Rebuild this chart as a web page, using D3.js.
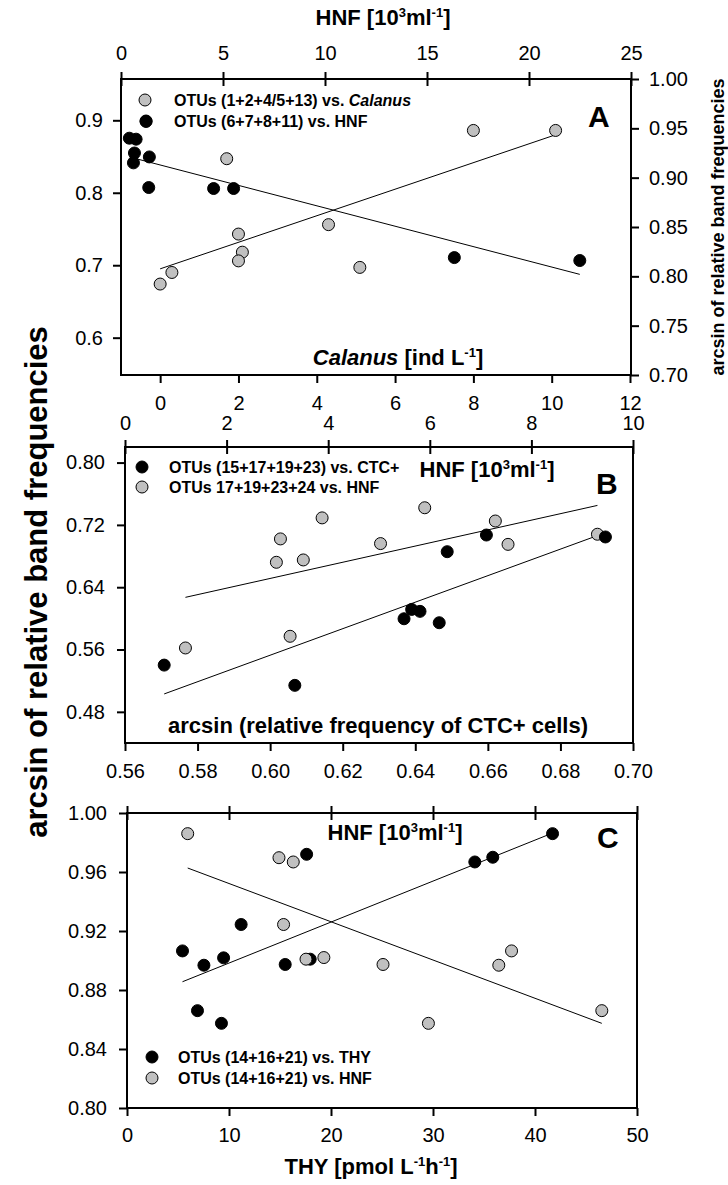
<!DOCTYPE html>
<html><head><meta charset="utf-8">
<script src="https://cdn.jsdelivr.net/npm/d3@7"></script>
<style>
body{margin:0;background:#fff;}
svg{display:block;font-family:"Liberation Sans",Arial,Helvetica,sans-serif;}
</style></head><body>
<svg id="chart" width="728" height="1185"></svg>
<script>
// ---------------- Panel A data ----------------
const calanusX = [0.0, 0.3, 1.7, 2.0, 2.1, 2.0, 4.3, 5.1, 8.0, 10.1];
const calanusY = [0.674, 0.690, 0.847, 0.743, 0.718, 0.706, 0.756, 0.697, 0.886, 0.886];
const hnfAX = [0.41, 0.74, 0.66, 0.61, 1.23, 1.39, 1.36, 4.54, 5.52, 16.34, 22.49];
const hnfAY = [0.940, 0.939, 0.925, 0.915, 0.957, 0.921, 0.890, 0.889, 0.889, 0.819, 0.816];
const fitACalX = [0.0, 10.1], fitACalY = [0.695, 0.880];
const fitAHnfX = [0.41, 22.49], fitAHnfY = [0.921, 0.802];
const aTopTicks = [0, 5, 10, 15, 20, 25];
const aBottomTicks = [0, 2, 4, 6, 8, 10, 12];
const aLeftTicks = [0.6, 0.7, 0.8, 0.9];
const aRightTicks = [0.70, 0.75, 0.80, 0.85, 0.90, 0.95, 1.00];

// ---------------- Panel B data ----------------
const ctcX = [0.5708, 0.6068, 0.6369, 0.6390, 0.6413, 0.6466, 0.6488, 0.6596, 0.6924];
const ctcY = [0.540, 0.514, 0.5995, 0.6115, 0.609, 0.5944, 0.6856, 0.707, 0.7045];
const hnfBX = [1.19, 3.25, 2.98, 3.06, 3.51, 3.88, 5.03, 5.90, 7.29, 7.54, 9.30];
const hnfBY = [0.562, 0.577, 0.672, 0.702, 0.675, 0.729, 0.696, 0.742, 0.725, 0.695, 0.708];
const fitBCtcX = [0.5708, 0.6924], fitBCtcY = [0.503, 0.710];
const fitBHnfX = [1.19, 9.30], fitBHnfY = [0.627, 0.745];
const bTopTicks = [0, 2, 4, 6, 8, 10];
const bBottomTicks = [0.56, 0.58, 0.60, 0.62, 0.64, 0.66, 0.68, 0.70];
const bLeftTicks = [0.48, 0.56, 0.64, 0.72, 0.80];

// ---------------- Panel C data ----------------
const thyX = [5.44, 7.54, 9.47, 11.19, 15.51, 17.61, 17.96, 6.91, 9.26, 34.1, 35.86, 41.72];
const thyY = [0.9065, 0.8968, 0.9018, 0.9244, 0.8973, 0.972, 0.9009, 0.866, 0.8574, 0.9668, 0.970, 0.986];
const hnfCX = [1.19, 2.98, 3.26, 3.07, 3.51, 3.86, 5.02, 5.91, 7.29, 7.54, 9.31];
const hnfCY = [0.986, 0.9697, 0.9668, 0.9244, 0.9009, 0.902, 0.8973, 0.8574, 0.8968, 0.9065, 0.866];
const fitCThyX = [5.44, 41.72], fitCThyY = [0.8856, 0.9864];
const fitCHnfX = [1.19, 9.31], fitCHnfY = [0.9627, 0.8574];
const cBottomTicks = [0, 10, 20, 30, 40, 50];
const cTopTicks = [0, 2, 4, 6, 8, 10];
const cLeftTicks = [0.80, 0.84, 0.88, 0.92, 0.96, 1.00];

// ---------------- drawing ----------------
const svg = d3.select("#chart");
const GRAY = "#c0c0c0";
const TICKFS = 20;

function zip(xs, ys) { return xs.map((x, i) => [x, ys[i]]); }

function styleAxis(g, fs) {
  g.select(".domain").remove();
  g.selectAll(".tick line").attr("stroke", "#000").attr("stroke-width", 2);
  g.selectAll(".tick text").attr("fill", "#000").attr("font-size", fs || TICKFS)
    .attr("font-family", '"Liberation Sans",Arial,sans-serif');
}

function frame(b) {
  svg.append("rect").attr("x", b.l).attr("y", b.t).attr("width", b.r - b.l).attr("height", b.b - b.t)
    .attr("fill", "none").attr("stroke", "#000").attr("stroke-width", 2);
}

function points(data, xs, ys, fill) {
  svg.append("g").selectAll("circle").data(data).join("circle")
    .attr("cx", d => xs(d[0])).attr("cy", d => ys(d[1])).attr("r", 6)
    .attr("fill", fill).attr("stroke", "#000").attr("stroke-width", 1);
}

function fitLine(fx, fy, xs, ys) {
  svg.append("path").datum(zip(fx, fy))
    .attr("d", d3.line().x(d => xs(d[0])).y(d => ys(d[1])))
    .attr("fill", "none").attr("stroke", "#000").attr("stroke-width", 1);
}

// rich text with superscripts; parts: [text, sup?, italic?]
function rich(x, y, parts, fs, anchor) {
  const t = svg.append("text").attr("x", x).attr("y", y).attr("font-size", fs)
    .attr("font-weight", "bold").attr("text-anchor", anchor || "middle").attr("fill", "#000");
  let shifted = false;
  parts.forEach(p => {
    const s = t.append("tspan").text(p[0]);
    if (p[1]) {
      s.attr("font-size", Math.round(fs * 0.6)).attr("dy", shifted ? 0 : -fs * 0.38);
      shifted = true;
    } else if (shifted) {
      s.attr("dy", fs * 0.38); shifted = false;
    }
    if (p[2]) s.attr("font-style", "italic");
  });
  return t;
}
const HNF_PARTS = [["HNF [10"], ["3", true], ["ml"], ["-1", true], ["]"]];

function legend(x, y, fill, label, tx) {
  svg.append("circle").attr("cx", x).attr("cy", y).attr("r", 6)
    .attr("fill", fill).attr("stroke", "#000").attr("stroke-width", 1);
  const t = svg.append("text").attr("x", tx).attr("y", y + 5.5).attr("font-size", 16)
    .attr("font-weight", "bold").attr("fill", "#000");
  label.forEach(p => { const s = t.append("tspan").text(p[0]); if (p[1]) s.attr("font-style", "italic"); });
}

function crossTop(g) { g.selectAll(".tick line").attr("y1", 7); }

// ---------- Panel A ----------
const A = {l: 121, r: 631, t: 79, b: 375};
const xCal = d3.scaleLinear().domain([-1, 12]).range([A.l, 630]);
const xHnfA = d3.scaleLinear().domain([0, 25]).range([A.l, A.r]);
const yAL = d3.scaleLinear().domain([0.5485, 0.957]).range([A.b, A.t]);
const yAR = d3.scaleLinear().domain([0.70, 1.00]).range([A.b, A.t]);

fitLine(fitACalX, fitACalY, xCal, yAL);
fitLine(fitAHnfX, fitAHnfY, xHnfA, yAR);
points(zip(calanusX, calanusY), xCal, yAL, GRAY);
points(zip(hnfAX, hnfAY), xHnfA, yAR, "#000");
frame(A);

let g;
g = svg.append("g").attr("transform", `translate(0,${A.t})`)
  .call(d3.axisTop(xHnfA).tickValues(aTopTicks).tickSize(7).tickPadding(12).tickFormat(d3.format("d")));
styleAxis(g); crossTop(g);
g = svg.append("g").attr("transform", `translate(0,${A.b})`)
  .call(d3.axisBottom(xCal).tickValues(aBottomTicks).tickSize(8).tickPadding(13).tickFormat(d3.format("d")));
styleAxis(g);
g = svg.append("g").attr("transform", `translate(${A.l},0)`)
  .call(d3.axisLeft(yAL).tickValues(aLeftTicks).tickSize(8).tickPadding(10).tickFormat(d3.format(".1f")));
styleAxis(g);
g = svg.append("g").attr("transform", `translate(${A.r},0)`)
  .call(d3.axisRight(yAR).tickValues(aRightTicks).tickSize(8).tickPadding(10).tickFormat(d3.format(".2f")));
styleAxis(g);

rich(383, 25, HNF_PARTS, 22);
rich(398, 365, [["Calanus", false, true], [" [ind L"], ["-1", true], ["]"]], 22);
legend(145, 100, GRAY, [["OTUs (1+2+4/5+13) vs. "], ["Calanus", true]], 174);
legend(146, 121, "#000", [["OTUs (6+7+8+11) vs. HNF"]], 174);
svg.append("text").attr("x", 588).attr("y", 127).attr("font-size", 30).attr("font-weight", "bold").text("A");
svg.append("text").attr("transform", `translate(724,${(A.t + A.b) / 2}) rotate(-90)`)
  .attr("text-anchor", "middle").attr("font-size", 18).attr("font-weight", "bold")
  .text("arcsin of relative band frequencies");

// ---------- Panel B ----------
const B = {l: 125, r: 633, t: 447, b: 743};
const xCtc = d3.scaleLinear().domain([0.56, 0.70]).range([B.l, B.r]);
const xHnfB = d3.scaleLinear().domain([0, 10]).range([B.l, B.r]);
const yB = d3.scaleLinear().domain([0.44, 0.82]).range([B.b, B.t]);

fitLine(fitBCtcX, fitBCtcY, xCtc, yB);
fitLine(fitBHnfX, fitBHnfY, xHnfB, yB);
points(zip(hnfBX, hnfBY), xHnfB, yB, GRAY);
points(zip(ctcX, ctcY), xCtc, yB, "#000");
frame(B);

g = svg.append("g").attr("transform", `translate(0,${B.t})`)
  .call(d3.axisTop(xHnfB).tickValues(bTopTicks).tickSize(7).tickPadding(10).tickFormat(d3.format("d")));
styleAxis(g); crossTop(g);
g = svg.append("g").attr("transform", `translate(0,${B.b})`)
  .call(d3.axisBottom(xCtc).tickValues(bBottomTicks).tickSize(8).tickPadding(13).tickFormat(d3.format(".2f")));
styleAxis(g);
g = svg.append("g").attr("transform", `translate(${B.l},0)`)
  .call(d3.axisLeft(yB).tickValues(bLeftTicks).tickSize(8).tickPadding(12).tickFormat(d3.format(".2f")));
styleAxis(g);

rich(487, 477, HNF_PARTS, 22);
rich(378, 733, [["arcsin (relative frequency of CTC+ cells)"]], 22);
legend(142, 467, "#000", [["OTUs (15+17+19+23) vs. CTC+"]], 169);
legend(142, 487, GRAY, [["OTUs 17+19+23+24 vs. HNF"]], 169);
svg.append("text").attr("x", 596).attr("y", 494).attr("font-size", 30).attr("font-weight", "bold").text("B");

// ---------- Panel C ----------
const C = {l: 127, r: 637, t: 813, b: 1108};
const xThy = d3.scaleLinear().domain([0, 50]).range([C.l, C.r]);
const xHnfC = d3.scaleLinear().domain([0, 10]).range([C.l, C.r]);
const yC = d3.scaleLinear().domain([0.80, 1.00]).range([C.b, C.t]);

fitLine(fitCThyX, fitCThyY, xThy, yC);
fitLine(fitCHnfX, fitCHnfY, xHnfC, yC);
points(zip(thyX, thyY), xThy, yC, "#000");
points(zip(hnfCX, hnfCY), xHnfC, yC, GRAY);
frame(C);

g = svg.append("g").attr("transform", `translate(0,${C.t})`)
  .call(d3.axisTop(xHnfC).tickValues(cTopTicks).tickSize(7).tickFormat(""));
styleAxis(g); crossTop(g);
g = svg.append("g").attr("transform", `translate(0,${C.b})`)
  .call(d3.axisBottom(xThy).tickValues(cBottomTicks).tickSize(8).tickPadding(12).tickFormat(d3.format("d")));
styleAxis(g);
g = svg.append("g").attr("transform", `translate(${C.l},0)`)
  .call(d3.axisLeft(yC).tickValues(cLeftTicks).tickSize(8).tickPadding(12).tickFormat(d3.format(".2f")));
styleAxis(g);

rich(395, 840, HNF_PARTS, 22);
rich(371, 1174, [["THY [pmol L"], ["-1", true], ["h"], ["-1", true], ["]"]], 22);
legend(152, 1057, "#000", [["OTUs (14+16+21) vs. THY"]], 178);
legend(152, 1078, GRAY, [["OTUs (14+16+21) vs. HNF"]], 178);
svg.append("text").attr("x", 597).attr("y", 848).attr("font-size", 30).attr("font-weight", "bold").text("C");

// big shared y label
svg.append("text").attr("transform", "translate(47,582) rotate(-90)")
  .attr("text-anchor", "middle").attr("font-size", 31).attr("font-weight", "bold")
  .text("arcsin of relative band frequencies");
</script>
</body></html>
